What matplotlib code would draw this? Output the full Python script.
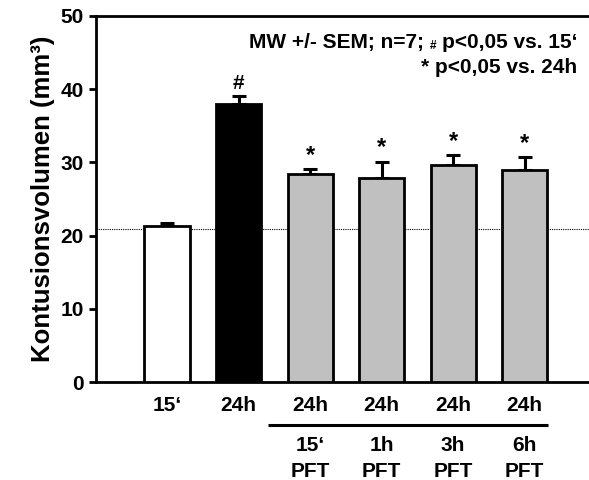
import numpy as np
import matplotlib.pyplot as plt

plt.rcParams['font.family'] = ['Liberation Sans', 'DejaVu Sans']
plt.rcParams['font.weight'] = 'bold'

# data
groups = ['15‘', '24h', '24h', '24h', '24h', '24h']
sub_top = ['', '', '15‘', '1h', '3h', '6h']
sub_bottom = ['', '', 'PFT', 'PFT', 'PFT', 'PFT']
means = [21.3, 38.0, 28.4, 27.9, 29.6, 29.0]
sems = [0.4, 1.0, 0.7, 2.2, 1.4, 1.7]
marks = ['', '#', '*', '*', '*', '*']
colors = ['white', 'black', '#c0c0c0', '#c0c0c0', '#c0c0c0', '#c0c0c0']
baseline = 20.9

fig = plt.figure(figsize=(5.89, 4.8), dpi=100)
ax = fig.add_axes([0.163, 0.204, 0.837, 0.763])

x = np.arange(len(means))
ax.bar(x, means, width=0.63, color=colors, edgecolor='black', linewidth=2, zorder=3)
ax.errorbar(x, means, yerr=[np.zeros(len(sems)), sems], fmt='none', ecolor='black',
            elinewidth=2.2, capsize=5, capthick=2.2, zorder=2)
ax.axhline(baseline, color='black', linestyle=(0, (1, 1)), linewidth=0.8, zorder=1)

for xi, m, s, mk in zip(x, means, sems, marks):
    if mk == '*':
        ax.text(xi, m + s + 0.3, mk, ha='center', va='bottom', fontsize=17, fontweight='bold')
    elif mk:
        ax.text(xi, m + s + 0.5, mk, ha='center', va='bottom', fontsize=15, fontweight='bold')

ax.set_xlim(-0.993, 5.9)
ax.set_ylim(0, 50)
ax.set_yticks([0, 10, 20, 30, 40, 50])
ax.tick_params(axis='y', labelsize=15, width=2, length=5, direction='out', pad=4)
ax.tick_params(axis='x', length=0, labelsize=15, pad=10)
ax.set_xticks(x)
ax.set_xticklabels(groups)
for lbl in ax.get_yticklabels() + ax.get_xticklabels():
    lbl.set_fontweight('bold')
ax.spines['right'].set_visible(False)
for sp in ['left', 'top', 'bottom']:
    ax.spines[sp].set_linewidth(2)

ax.set_ylabel('Kontusionsvolumen (mm³)', fontsize=18.5, fontweight='bold', labelpad=4)

# sub labels below
xt = ax.get_xaxis_transform()
for xi, a, b in zip(x, sub_top, sub_bottom):
    if a:
        ax.text(xi, -0.172, a, transform=xt, ha='center', va='center', fontsize=15, fontweight='bold')
        ax.text(xi, -0.243, b, transform=xt, ha='center', va='center', fontsize=15, fontweight='bold')
ax.plot([1.41, 5.33], [-0.1175, -0.1175], transform=xt, color='black',
        linewidth=2.2, clip_on=False, solid_capstyle='butt')

# legend text
fs = 15
t0 = ax.text(0.976, 0.926, 'MW +/- SEM; n=7;', transform=ax.transAxes, ha='right', va='center',
             fontsize=fs, fontweight='bold')
t1 = ax.text(0.976, 0.926, 'p<0,05 vs. 15‘', transform=ax.transAxes, ha='right', va='center',
             fontsize=fs, fontweight='bold')
ax.text(0.976, 0.858, '* p<0,05 vs. 24h', transform=ax.transAxes, ha='right', va='center',
        fontsize=fs, fontweight='bold')

fig.canvas.draw()
bb = t1.get_window_extent().transformed(ax.transAxes.inverted())
th = ax.text(bb.x0 - 0.01, 0.917, '#', transform=ax.transAxes, ha='right', va='center',
             fontsize=8.5, fontweight='bold')
fig.canvas.draw()
bh = th.get_window_extent().transformed(ax.transAxes.inverted())
t0.set_position((bh.x0 - 0.012, 0.926))

fig.savefig('out.png', dpi=100)
